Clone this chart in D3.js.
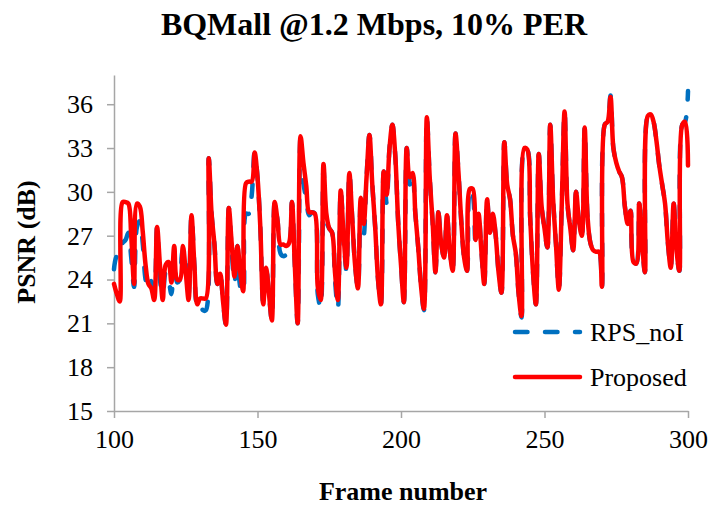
<!DOCTYPE html>
<html>
<head>
<meta charset="utf-8">
<script src="https://cdn.jsdelivr.net/npm/d3@7"></script>
<style>
  html, body { margin: 0; padding: 0; background: #fff; }
  svg { display: block; }
  text { font-family: "Liberation Serif", "Times New Roman", serif; fill: #000; }
</style>
</head>
<body>
<svg id="chart" width="711" height="508"></svg>
<script>
// PSNR per frame, frames 100..300
const firstFrame = 100;

const proposed = [
  23.7, 23.0, 22.5, 29.3, 29.3, 29.2, 27.0, 23.7, 29.2, 29.0,
  27.3, 25.0, 23.7, 23.4, 22.6, 27.6, 25.0, 22.6, 25.0, 25.2,
  23.8, 26.3, 24.0, 24.0, 26.3, 24.5, 22.6, 28.4, 25.0, 22.3,
  22.7, 22.7, 22.7, 32.3, 28.5, 26.4, 23.7, 24.4, 22.5, 20.9,
  28.9, 26.5, 24.2, 26.3, 24.5, 23.2, 30.6, 30.7, 30.7, 32.7,
  31.0, 27.5, 22.3, 24.8, 23.0, 21.2, 29.3, 28.0, 26.4, 26.4,
  26.3, 26.5, 29.3, 25.0, 21.0, 33.8, 32.0, 30.4, 28.6, 28.6,
  28.5, 23.5, 22.6, 31.9, 28.5, 27.5, 27.2, 24.5, 22.6, 30.1,
  27.0, 24.8, 31.3, 28.2, 25.0, 23.4, 29.6, 27.8, 31.0, 33.9,
  30.5, 27.6, 24.0, 22.3, 31.4, 29.8, 33.0, 34.6, 32.5, 28.0,
  25.0, 22.45, 33.0, 31.0, 31.3, 28.5, 26.2, 23.5, 22.0, 35.1,
  31.0, 28.0, 24.5, 28.6, 26.5, 25.5, 28.4, 26.0, 24.6, 34.0,
  31.4, 28.0, 25.5, 24.6, 30.2, 30.2, 26.7, 28.5, 26.0, 23.7,
  29.5, 27.2, 28.5, 27.0, 24.5, 23.1, 33.4, 30.5, 29.5, 27.0,
  25.8, 23.0, 21.5, 33.0, 32.9, 28.3, 24.5, 22.3, 32.6, 29.0,
  27.5, 26.2, 34.6, 29.5, 26.4, 23.3, 29.0, 35.5, 29.2, 27.5,
  26.0, 30.0, 28.0, 27.0, 34.4, 28.3, 26.5, 26.0, 25.9, 25.9,
  23.5, 34.6, 34.8, 36.5, 33.0, 32.0, 31.4, 31.0, 29.0, 27.8,
  28.7, 25.2, 25.1, 29.2, 26.5, 24.5, 35.2, 35.3, 34.8, 33.5,
  31.8, 30.5, 29.2, 26.5, 24.8, 29.2, 26.0, 24.6, 34.6, 34.8,
  31.8
];

const rpsNoI = [
  24.7, 25.6, 25.6, 26.5, 26.7, 27.2, 25.5, 23.5, 27.6, 28.0,
  26.5, 24.0, 23.3, 23.9, 23.3, 27.6, 24.0, 23.0, 24.5, 24.0,
  23.0, 25.5, 23.8, 24.0, 26.0, 25.9, 23.0, 28.4, 25.0, 22.3,
  22.5, 21.9, 21.9, 32.3, 28.5, 26.4, 23.7, 24.4, 22.5, 20.9,
  28.9, 26.0, 23.8, 26.3, 23.5, 23.1, 28.5, 28.5, 29.8, 32.7,
  31.0, 27.5, 22.3, 24.8, 23.0, 21.2, 29.3, 28.0, 25.8, 25.6,
  25.7, 26.0, 29.3, 25.0, 21.0, 33.8, 30.6, 29.5, 28.4, 28.6,
  28.5, 23.0, 22.1, 31.5, 28.0, 27.5, 27.2, 24.0, 22.0, 30.1,
  27.0, 24.6, 31.3, 28.2, 25.0, 23.4, 29.6, 27.0, 31.0, 33.9,
  30.5, 27.6, 24.0, 22.3, 31.4, 29.2, 33.0, 34.6, 32.5, 28.0,
  25.0, 22.45, 33.0, 30.5, 31.3, 28.5, 26.2, 23.5, 21.9, 35.1,
  31.0, 28.0, 24.5, 28.6, 26.5, 25.5, 28.4, 26.0, 24.6, 34.0,
  31.4, 28.0, 25.5, 24.6, 30.2, 29.8, 26.4, 28.5, 26.0, 23.7,
  29.5, 27.2, 28.5, 27.0, 24.5, 23.1, 33.4, 30.5, 29.5, 27.0,
  25.8, 23.0, 21.4, 33.0, 32.9, 28.3, 24.5, 22.3, 32.6, 29.0,
  27.5, 26.2, 34.6, 29.5, 26.4, 23.3, 29.0, 35.5, 29.2, 27.5,
  26.0, 30.0, 28.0, 27.0, 34.4, 28.3, 26.5, 26.0, 25.9, 25.9,
  23.5, 34.6, 34.8, 36.6, 33.0, 32.0, 31.4, 31.0, 29.0, 27.8,
  28.7, 25.2, 25.1, 29.2, 26.5, 24.5, 35.2, 35.3, 34.8, 33.5,
  31.8, 30.5, 29.2, 26.5, 24.8, 29.2, 26.0, 24.6, 34.6, 34.8,
  36.9
];

const xTicks = [100, 150, 200, 250, 300];
const yTicks = [15, 18, 21, 24, 27, 30, 33, 36];
const seriesNames = ["RPS_noI", "Proposed"];
const seriesColors = ["#0070C0", "#FF0000"];

const titleText = "BQMall @1.2 Mbps, 10% PER";
const xTitle = "Frame number";
const yTitle = "PSNR (dB)";

const svg = d3.select("#chart");
const margin = { left: 114, right: 23, top: 75, bottom: 97 };
const W = 711, H = 508;

const x = d3.scaleLinear().domain([100, 300]).range([margin.left, W - margin.right]);
const y = d3.scaleLinear().domain([15, 38]).range([H - margin.bottom, margin.top]);

const axisColor = "#a6a6a6";

// axes
const gx = svg.append("g")
  .attr("transform", `translate(0,${y(15)})`)
  .call(d3.axisBottom(x).tickValues(xTicks).tickSize(7).tickSizeOuter(0).tickPadding(10));
const gy = svg.append("g")
  .attr("transform", `translate(${x(100)},0)`)
  .call(d3.axisLeft(y).tickValues(yTicks).tickSize(7).tickSizeOuter(0).tickPadding(14));

[gx, gy].forEach(g => {
  g.attr("font-family", null).attr("font-size", null);
  g.select(".domain").attr("stroke", axisColor).attr("stroke-width", 1.5);
  g.selectAll(".tick line").attr("stroke", axisColor).attr("stroke-width", 1.5);
  g.selectAll(".tick text")
    .attr("font-size", 26).attr("fill", "#000");
});
gx.selectAll(".tick text").attr("dy", "0.75em");

// series
const line = d3.line()
  .x((d, i) => x(firstFrame + i))
  .y(d => y(d))
  .curve(d3.curveCatmullRom.alpha(0.5));

const plot = svg.append("g");
plot.append("path")
  .datum(rpsNoI)
  .attr("d", line)
  .attr("fill", "none")
  .attr("stroke", seriesColors[0])
  .attr("stroke-width", 4.5)
  .attr("stroke-linecap", "round")
  .attr("stroke-linejoin", "round")
  .attr("stroke-dasharray", "12.5,17.5");

plot.append("path")
  .datum(proposed)
  .attr("d", line)
  .attr("fill", "none")
  .attr("stroke", seriesColors[1])
  .attr("stroke-width", 4.5)
  .attr("stroke-linecap", "round")
  .attr("stroke-linejoin", "round");

// legend
const legend = svg.append("g");
const legendRows = [332, 377];
seriesNames.forEach((name, i) => {
  legend.append("line")
    .attr("x1", 515).attr("x2", 580)
    .attr("y1", legendRows[i]).attr("y2", legendRows[i])
    .attr("stroke", seriesColors[i])
    .attr("stroke-width", 4.5)
    .attr("stroke-linecap", "round")
    .attr("stroke-dasharray", i === 0 ? "12.5,17.5" : null);
  legend.append("text")
    .attr("x", 590).attr("y", legendRows[i] + 8.5)
    .attr("font-size", 26)
    .text(name);
});

// titles
svg.append("text")
  .attr("x", 374).attr("y", 35)
  .attr("text-anchor", "middle")
  .attr("font-size", 32).attr("font-weight", "bold")
  .text(titleText);

svg.append("text")
  .attr("x", 403).attr("y", 500)
  .attr("text-anchor", "middle")
  .attr("font-size", 26).attr("font-weight", "bold")
  .text(xTitle);

svg.append("text")
  .attr("transform", `translate(35,242) rotate(-90)`)
  .attr("text-anchor", "middle")
  .attr("font-size", 26).attr("font-weight", "bold")
  .text(yTitle);
</script>
</body>
</html>
